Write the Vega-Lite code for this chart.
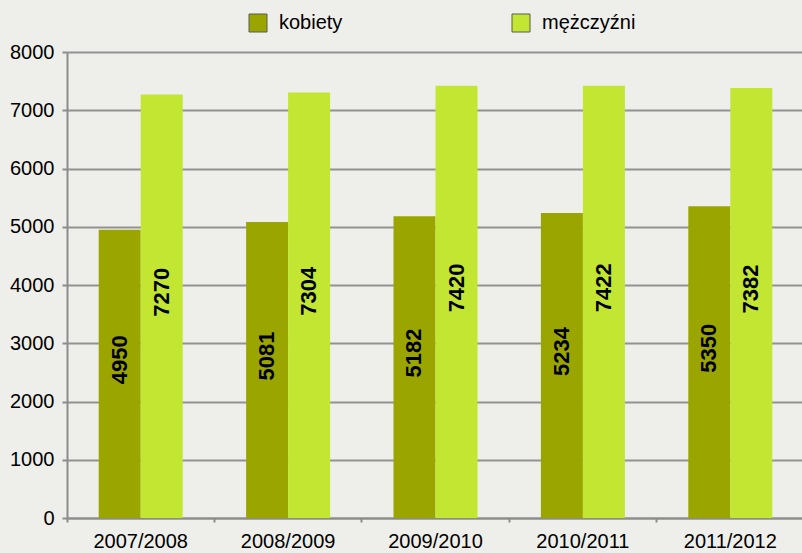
{
  "$schema": "https://vega.github.io/schema/vega-lite/v6.json",
  "width": 737,
  "height": 466,
  "autosize": {"type": "none"},
  "padding": {"left": 67, "top": 52, "right": 0, "bottom": 35},
  "background": "#eeefea",
  "config": {"view": {"stroke": null}, "font": "Liberation Sans"},
  "data": {
    "values": [
      {"rok": "2007/2008", "plec": "kobiety", "wartosc": 4950},
      {"rok": "2007/2008", "plec": "mężczyźni", "wartosc": 7270},
      {"rok": "2008/2009", "plec": "kobiety", "wartosc": 5081},
      {"rok": "2008/2009", "plec": "mężczyźni", "wartosc": 7304},
      {"rok": "2009/2010", "plec": "kobiety", "wartosc": 5182},
      {"rok": "2009/2010", "plec": "mężczyźni", "wartosc": 7420},
      {"rok": "2010/2011", "plec": "kobiety", "wartosc": 5234},
      {"rok": "2010/2011", "plec": "mężczyźni", "wartosc": 7422},
      {"rok": "2011/2012", "plec": "kobiety", "wartosc": 5350},
      {"rok": "2011/2012", "plec": "mężczyźni", "wartosc": 7382}
    ]
  },
  "encoding": {
    "x": {
      "field": "rok",
      "type": "nominal",
      "sort": null,
      "title": null,
      "scale": {"paddingInner": 0.43, "paddingOuter": 0.215},
      "axis": {
        "bandPosition": -0.377,
        "labelAngle": 0,
        "labelFontSize": 20,
        "labelColor": "#000000",
        "labelPadding": 9,
        "tickSize": 4,
        "tickColor": "#8c8c8c",
        "tickWidth": 2,
        "domainColor": "#8c8c8c",
        "domainWidth": 2,
        "grid": false
      }
    },
    "xOffset": {
      "field": "plec",
      "type": "nominal",
      "sort": ["kobiety", "mężczyźni"],
      "scale": {"paddingInner": 0, "paddingOuter": 0}
    }
  },
  "layer": [
    {
      "mark": {"type": "bar"},
      "encoding": {
        "y": {
          "field": "wartosc",
          "type": "quantitative",
          "title": null,
          "scale": {"domain": [0, 8000]},
          "axis": {
            "values": [0, 1000, 2000, 3000, 4000, 5000, 6000, 7000, 8000],
            "format": "d",
            "labelFontSize": 20,
            "labelColor": "#000000",
            "labelPadding": 8,
            "tickSize": 5,
            "tickColor": "#8c8c8c",
            "tickWidth": 2,
            "domainColor": "#8c8c8c",
            "domainWidth": 2,
            "grid": true,
            "gridColor": "#929292",
            "gridWidth": 2
          }
        },
        "color": {
          "field": "plec",
          "type": "nominal",
          "scale": {"domain": ["kobiety", "mężczyźni"], "range": ["#9ba500", "#c2e632"]},
          "legend": {
            "orient": "none",
            "legendX": 181,
            "legendY": -39,
            "direction": "horizontal",
            "title": null,
            "padding": 0,
            "symbolType": "square",
            "symbolSize": 324,
            "symbolStrokeColor": "#5a5a50",
            "symbolStrokeWidth": 1,
            "symbolOpacity": 1,
            "labelFontSize": 20,
            "labelColor": "#000000",
            "labelOffset": 11,
            "columnPadding": 167
          }
        }
      }
    },
    {
      "mark": {"type": "text", "angle": 270, "fontWeight": "bold", "fontSize": 22, "yOffset": -14, "color": "#000000", "align": "center", "baseline": "middle"},
      "encoding": {
        "y": {
          "field": "wartosc",
          "type": "quantitative",
          "scale": {"domain": [0, 16000]},
          "axis": null
        },
        "text": {"field": "wartosc", "type": "quantitative"}
      }
    }
  ],
  "resolve": {"scale": {"y": "independent"}}
}
